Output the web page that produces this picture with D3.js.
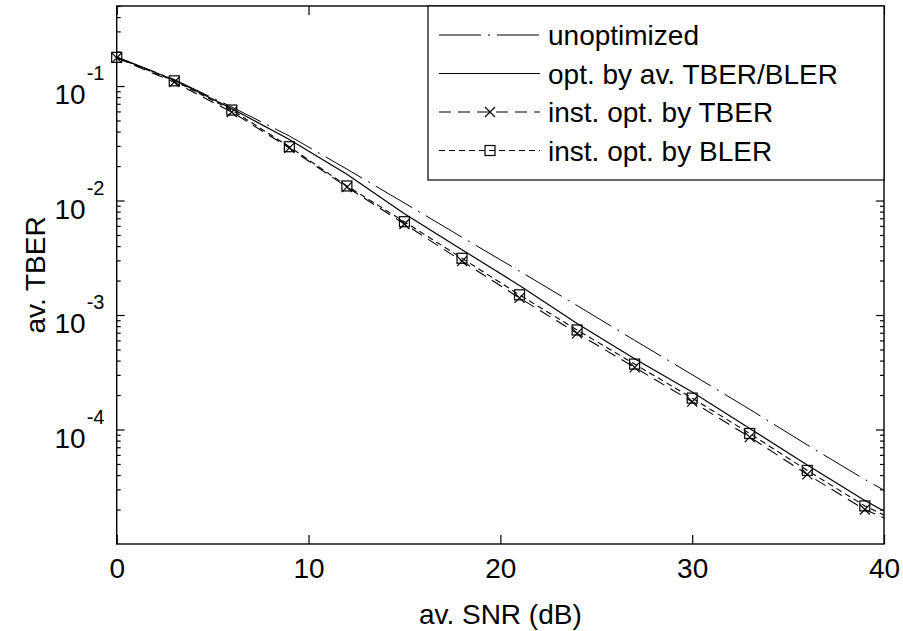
<!DOCTYPE html>
<html><head><meta charset="utf-8">
<script src="https://cdn.jsdelivr.net/npm/d3@7/dist/d3.min.js"></script>
<style>
body{margin:0;background:#fff}
svg text{font-family:"Liberation Sans",Arial,Helvetica,sans-serif;fill:#000}
</style>
</head><body>
<svg id="c" width="903" height="631"></svg>
<script>
// ---- data ----
const snr = [0, 3, 6, 9, 12, 15, 18, 21, 24, 27, 30, 33, 36, 39, 40];
const unoptimized = [0.179, 0.114, 0.0656, 0.0366, 0.0188, 0.00951, 0.00478, 0.00242, 0.00121, 6.01e-4, 3.01e-4, 1.50e-4, 7.33e-5, 3.66e-5, 2.95e-5];
const optAv       = [0.179, 0.113, 0.0635, 0.0341, 0.0170, 0.00767, 0.00372, 0.00181, 8.43e-4, 4.15e-4, 2.13e-4, 1.02e-4, 4.90e-5, 2.40e-5, 1.94e-5];
const instTBER    = [0.176, 0.108, 0.0593, 0.0288, 0.0131, 0.00624, 0.00296, 0.00141, 6.92e-4, 3.49e-4, 1.75e-4, 8.59e-5, 4.05e-5, 2.00e-5, 1.69e-5];
const instBLER    = [0.178, 0.111, 0.0617, 0.0295, 0.0134, 0.00653, 0.00313, 0.00150, 7.40e-4, 3.73e-4, 1.88e-4, 9.23e-5, 4.39e-5, 2.15e-5, 1.79e-5];
const xTicks = [0, 10, 20, 30, 40];
const yTicks = [1e-4, 1e-3, 1e-2, 1e-1];
const yTickExp = ["-4", "-3", "-2", "-1"];
const legendLabels = ["unoptimized", "opt. by av. TBER/BLER", "inst. opt. by TBER", "inst. opt. by BLER"];
const xTitle = "av. SNR (dB)";
const yTitle = "av. TBER";

// ---- setup ----
const svg = d3.select("#c");
const L = 116.7, R = 884, T = 6, B = 544;
const x = d3.scaleLinear().domain([0, 40]).range([L, R]);
const y = d3.scaleLog().domain([1e-5, 0.5]).range([B, T]);
const FS = 28;

function styleAxis(g) {
  g.attr("font-family", null).attr("font-size", null);
  g.selectAll(".domain").remove();
  g.selectAll(".tick line").attr("stroke", "#000").attr("stroke-width", 1.2);
}

// major/minor ticks
const minor = y.ticks().filter(v => Math.abs(Math.log10(v) - Math.round(Math.log10(v))) > 1e-6);

svg.append("g").attr("transform", `translate(0,${B})`)
  .call(d3.axisBottom(x).tickValues(xTicks).tickSizeInner(-9).tickSizeOuter(0).tickPadding(14))
  .call(styleAxis)
  .call(g => g.selectAll("text").attr("font-size", FS));
svg.append("g").attr("transform", `translate(0,${T})`)
  .call(d3.axisTop(x).tickValues(xTicks).tickSizeInner(-9).tickSizeOuter(0).tickFormat(""))
  .call(styleAxis);
svg.append("g").attr("transform", `translate(${L},0)`)
  .call(d3.axisLeft(y).tickValues(yTicks).tickSizeInner(-8).tickSizeOuter(0).tickFormat(""))
  .call(styleAxis);
svg.append("g").attr("transform", `translate(${L},0)`)
  .call(d3.axisLeft(y).tickValues(minor).tickSizeInner(-4).tickSizeOuter(0).tickFormat(""))
  .call(styleAxis);
svg.append("g").attr("transform", `translate(${R},0)`)
  .call(d3.axisRight(y).tickValues(yTicks).tickSizeInner(-8).tickSizeOuter(0).tickFormat(""))
  .call(styleAxis);
svg.append("g").attr("transform", `translate(${R},0)`)
  .call(d3.axisRight(y).tickValues(minor).tickSizeInner(-4).tickSizeOuter(0).tickFormat(""))
  .call(styleAxis);

// y tick labels 10^n
const yl = svg.append("g");
yTicks.forEach((t, i) => {
  yl.append("text").attr("x", L - 31).attr("y", y(t) + 18).attr("text-anchor", "end")
    .attr("font-size", FS).text("10");
  yl.append("text").attr("x", L - 30).attr("y", y(t) - 6).attr("text-anchor", "start")
    .attr("font-size", 20).text(yTickExp[i]);
});

// titles
svg.append("text").attr("x", (L + R) / 2).attr("y", 624).attr("text-anchor", "middle")
  .attr("font-size", FS).text(xTitle);
svg.append("text").attr("transform", `translate(45,${(T + B) / 2}) rotate(-90)`)
  .attr("text-anchor", "middle").attr("font-size", FS).text(yTitle);

// ---- series ----
const series = [
  {name: legendLabels[0], vals: unoptimized, dash: "42,7,2,7", w: 1, marker: null},
  {name: legendLabels[1], vals: optAv, dash: null, w: 1.2, marker: null},
  {name: legendLabels[2], vals: instTBER, dash: "12,7", w: 1.1, marker: "x"},
  {name: legendLabels[3], vals: instBLER, dash: "6,4", w: 1.1, marker: "s"}
];
const line = d3.line().x(d => x(d.s)).y(d => y(d.v));
const plot = svg.append("g");
series.forEach(sr => {
  const pts = snr.map((s, i) => ({s, v: sr.vals[i]}));
  plot.append("path").datum(pts).attr("d", line).attr("fill", "none")
    .attr("stroke", "#000").attr("stroke-width", sr.w)
    .attr("stroke-dasharray", sr.dash);
});
function drawMarker(g, type, cx, cy) {
  if (type === "x") {
    g.append("path").attr("d", `M${cx-5},${cy-5}L${cx+5},${cy+5}M${cx-5},${cy+5}L${cx+5},${cy-5}`)
      .attr("stroke", "#000").attr("stroke-width", 1.2).attr("fill", "none");
  } else if (type === "s") {
    g.append("rect").attr("x", cx - 5).attr("y", cy - 5).attr("width", 10).attr("height", 10)
      .attr("stroke", "#000").attr("stroke-width", 1.2).attr("fill", "none");
  }
}
series.forEach(sr => {
  if (!sr.marker) return;
  snr.forEach((s, i) => {
    if (s % 3 === 0) drawMarker(plot, sr.marker, x(s), y(sr.vals[i]));
  });
});

// box
svg.append("rect").attr("x", L).attr("y", T).attr("width", R - L).attr("height", B - T)
  .attr("fill", "none").attr("stroke", "#000").attr("stroke-width", 1.4);

// ---- legend ----
const lg = svg.append("g");
const lgL = 428, lgT = T, lgB = 180;
lg.append("rect").attr("x", lgL).attr("y", lgT).attr("width", R - lgL).attr("height", lgB - lgT)
  .attr("fill", "#fff").attr("stroke", "#000").attr("stroke-width", 1.2);
series.forEach((sr, i) => {
  const cy = 35 + i * 38.5;
  lg.append("line").attr("x1", 439).attr("x2", 540).attr("y1", cy).attr("y2", cy)
    .attr("stroke", "#000").attr("stroke-width", sr.w).attr("stroke-dasharray", sr.dash);
  if (sr.marker) drawMarker(lg, sr.marker, 490, cy);
  lg.append("text").attr("x", 548).attr("y", cy + 10).attr("font-size", FS).text(sr.name);
});
</script>
</body></html>
